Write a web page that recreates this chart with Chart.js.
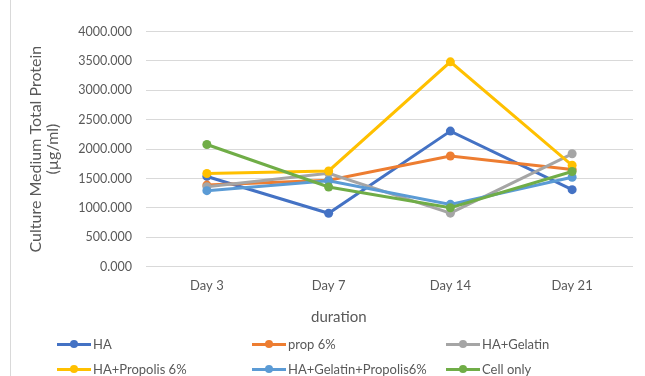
<!DOCTYPE html>
<html>
<head>
<meta charset="utf-8">
<script src="https://cdn.jsdelivr.net/npm/chart.js@4"></script>
<style>
  html, body { margin: 0; padding: 0; background: #fff; }
  #wrap { position: relative; width: 645px; height: 376px; overflow: hidden; }
  #frame { position: absolute; left: 10px; top: 0; width: 0; height: 376px; border-left: 1px solid #d9d9d9; }
  #xtitle { position: absolute; left: 311px; top: 306px; font-family: Lato, sans-serif; font-size: 15px;
            line-height: 20px; color: #595959; white-space: nowrap; }
  #legend { position: absolute; left: 0; top: 0; width: 645px; height: 376px; pointer-events: none;
            font-family: Lato, sans-serif; font-size: 13px; color: #595959; }
  .item { position: absolute; height: 16px; line-height: 16px; white-space: nowrap; }
  .item .mk { position: absolute; left: 0; top: 6.5px; width: 34px; height: 3px; }
  .item .dot { position: absolute; left: 13px; top: 4px; width: 8px; height: 8px; border-radius: 50%; }
  .item .tx { position: absolute; left: 36px; top: 0; }
</style>
</head>
<body>
<div id="wrap">
  <canvas id="chart" width="645" height="376"></canvas>
  <div id="frame"></div>
  <div id="xtitle">duration</div>
  <div id="legend"></div>
</div>
<script>
// categories and values
const days = ['Day 3', 'Day 7', 'Day 14', 'Day 21'];

const haValues = [1535, 908, 2306, 1310];
const propValues = [1388, 1470, 1883, 1655];
const haGelatinValues = [1360, 1590, 910, 1920];
const haPropolisValues = [1586, 1628, 3484, 1725];
const haGelatinPropolisValues = [1293, 1462, 1060, 1522];
const cellOnlyValues = [2078, 1355, 1003, 1620];

const seriesNames = ['HA', 'prop 6%', 'HA+Gelatin', 'HA+Propolis 6%', 'HA+Gelatin+Propolis6%', 'Cell only'];
const seriesColors = ['#4472C4', '#ED7D31', '#A5A5A5', '#FFC000', '#5B9BD5', '#70AD47'];
const seriesValues = [haValues, propValues, haGelatinValues, haPropolisValues, haGelatinPropolisValues, cellOnlyValues];

const yTicks = [0, 500, 1000, 1500, 2000, 2500, 3000, 3500, 4000];

const textColor = '#595959';
const gridColor = '#d9d9d9';

const datasets = seriesNames.map((name, i) => ({
    label: name,
    data: seriesValues[i],
    borderColor: seriesColors[i],
    backgroundColor: seriesColors[i],
    borderWidth: 3,
    pointRadius: 4.5,
    pointHoverRadius: 4.5,
    pointBorderWidth: 0,
    tension: 0,
    fill: false
}));

// Excel draws the later series on top
datasets.forEach((d, i) => { d.order = seriesNames.length - i; });

new Chart(document.getElementById('chart'), {
    type: 'line',
    data: { labels: days, datasets: datasets },
    options: {
        responsive: false,
        animation: false,
        layout: { padding: { left: 0, top: 31.5, right: 12, bottom: 41 } },
        plugins: {
            legend: { display: false },
            tooltip: { enabled: false }
        },
        scales: {
            x: {
                offset: true,
                grid: { display: false, drawTicks: false },
                border: { display: false },
                ticks: { color: textColor, font: { family: 'Lato', size: 13 }, padding: 11 },
                afterFit: function(scale) { scale.height = 68.3; }
            },
            y: {
                min: 0,
                max: 4000,
                afterBuildTicks: function(scale) { scale.ticks = yTicks.map(v => ({ value: v })); },
                grid: { color: gridColor, lineWidth: 1, drawTicks: false },
                border: { display: false },
                ticks: {
                    color: textColor,
                    font: { family: 'Lato', size: 12.5 },
                    padding: 14,
                    callback: function(value) { return value.toFixed(3); }
                },
                title: {
                    display: true,
                    text: ['Culture Medium Total Protein', '(\u00b5g/ml)'],
                    color: textColor,
                    font: { family: 'Lato', size: 16, lineHeight: 1.03 },
                    padding: { top: 27.75, bottom: 0 }
                },
                afterFit: function(scale) { scale.width = 146; }
            }
        }
    }
});

// legend in three columns like the original
const legendCols = [57, 252, 446];
const legendRows = [336, 361];
const legend = document.getElementById('legend');
seriesNames.forEach((name, i) => {
    const item = document.createElement('div');
    item.className = 'item';
    item.style.left = legendCols[i % 3] + 'px';
    item.style.top = legendRows[Math.floor(i / 3)] + 'px';
    item.innerHTML = '<div class="mk" style="background:' + seriesColors[i] + '"></div>' +
        '<div class="dot" style="background:' + seriesColors[i] + '"></div>' +
        '<div class="tx">' + name + '</div>';
    legend.appendChild(item);
});
</script>
</body>
</html>
